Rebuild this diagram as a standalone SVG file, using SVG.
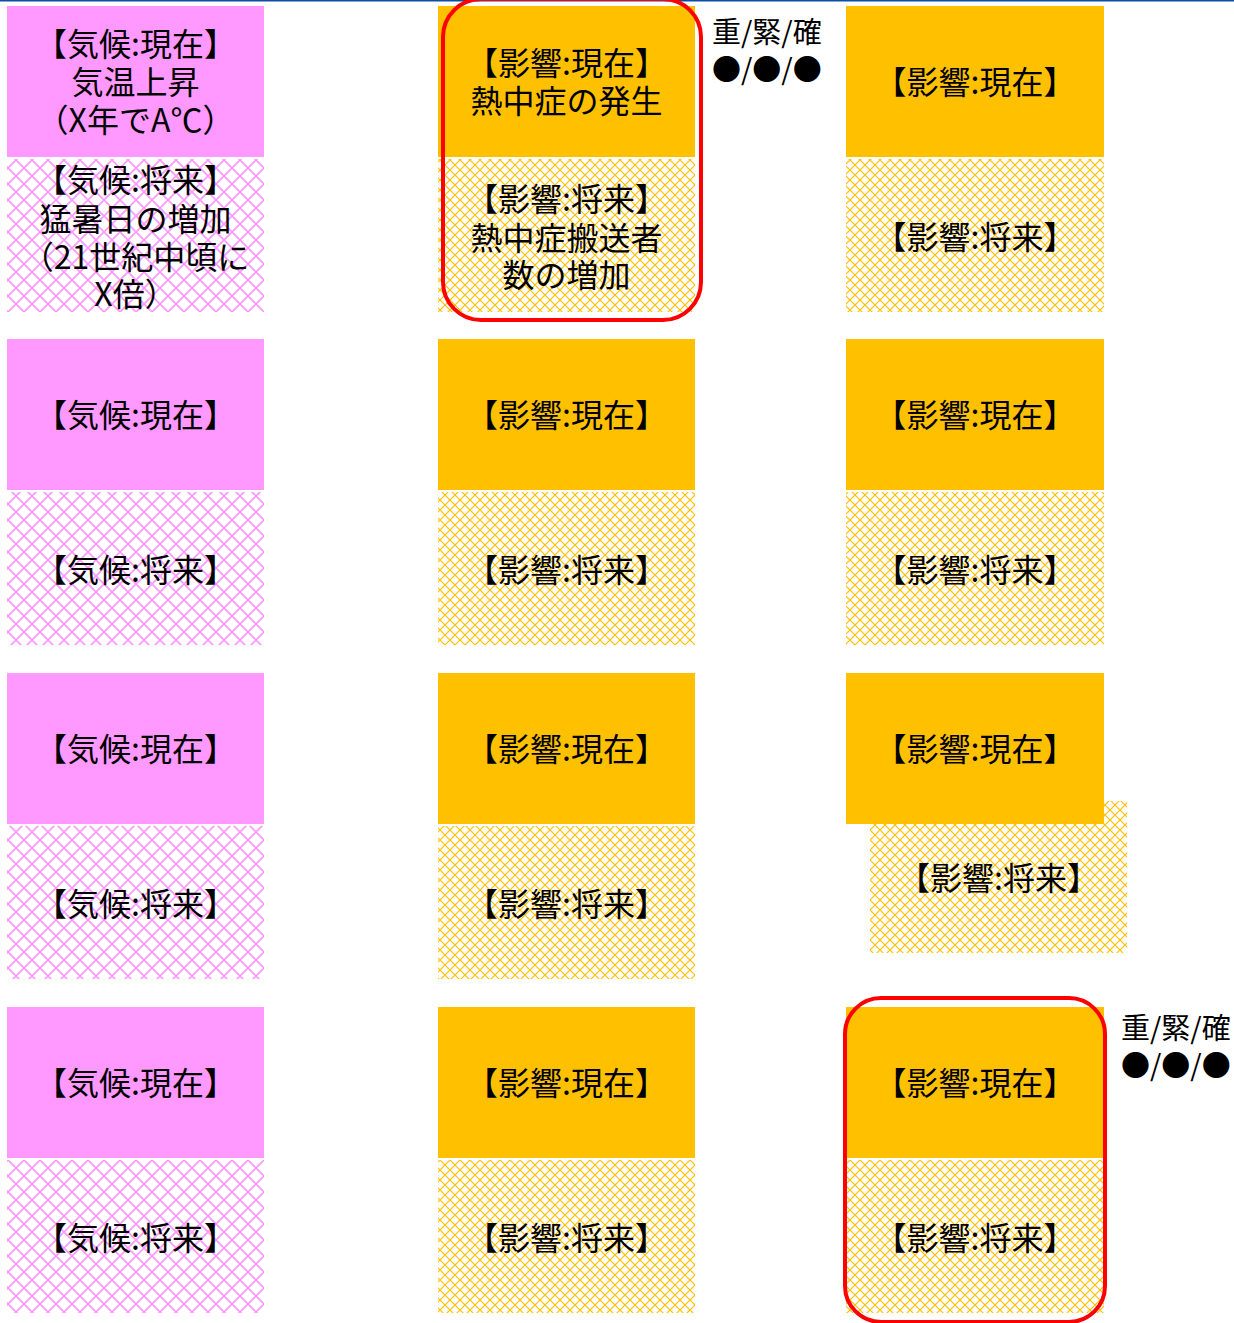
<svg xmlns="http://www.w3.org/2000/svg" width="1234" height="1323" viewBox="0 0 1234 1323">
<style>
.t{font-family:"Noto Sans CJK JP","Noto Sans CJK SC",sans-serif;font-size:32px;fill:#000;text-anchor:middle}
.lab{font-family:"Noto Sans CJK JP","Noto Sans CJK SC",sans-serif;font-size:29px;fill:#000}
.cp{fill:#FF99FF}
.cf{fill:url(#pinkHatch)}
.ip{fill:#FFC000}
.if{fill:url(#orangeHatch)}
.hl{fill:none;stroke:#FF0000;stroke-width:4}
</style>
<defs>
<pattern id="pinkHatch" patternUnits="userSpaceOnUse" width="16" height="16">
<rect width="16" height="16" fill="#fff"/>
<path d="M0,0 L16,16 M16,0 L0,16" stroke="#FF99FF" stroke-width="1.7"/>
</pattern>
<pattern id="orangeHatch" patternUnits="userSpaceOnUse" width="10" height="10">
<rect width="10" height="10" fill="#fff"/>
<path d="M0,0 L10,10 M10,0 L0,10" stroke="#FFC000" stroke-width="1.2"/>
</pattern>
</defs>
<rect width="1234" height="1323" fill="#fff"/>
<rect x="0" y="0" width="1234" height="1.5" fill="#0B4EA2"/>

<!-- Column 1: climate -->
<g id="climate-now-1"><rect class="cp" x="7" y="6" width="257" height="151"/>
<text class="t" x="135.5" y="56">【気候:現在】</text><text class="t" x="135.5" y="94">気温上昇</text><text class="t" x="135.5" y="132">（X年でA℃）</text></g>
<g id="climate-future-1"><rect class="cf" x="7" y="159" width="257" height="153"/>
<text class="t" x="135.5" y="192">【気候:将来】</text><text class="t" x="135.5" y="231">猛暑日の増加</text><text class="t" x="135.5" y="269">（21世紀中頃に</text><text class="t" x="135.5" y="306">X倍）</text></g>
<g id="climate-now-2"><rect class="cp" x="7" y="339" width="257" height="151"/><text class="t" x="135.5" y="427">【気候:現在】</text></g>
<g id="climate-future-2"><rect class="cf" x="7" y="492" width="257" height="153"/><text class="t" x="135.5" y="582">【気候:将来】</text></g>
<g id="climate-now-3"><rect class="cp" x="7" y="673" width="257" height="151"/><text class="t" x="135.5" y="761">【気候:現在】</text></g>
<g id="climate-future-3"><rect class="cf" x="7" y="826" width="257" height="153"/><text class="t" x="135.5" y="916">【気候:将来】</text></g>
<g id="climate-now-4"><rect class="cp" x="7" y="1007" width="257" height="151"/><text class="t" x="135.5" y="1095">【気候:現在】</text></g>
<g id="climate-future-4"><rect class="cf" x="7" y="1160" width="257" height="153"/><text class="t" x="135.5" y="1250">【気候:将来】</text></g>

<!-- Column 2: impact -->
<g id="impact-now-1"><rect class="ip" x="438" y="6" width="257" height="151"/>
<text class="t" x="566.5" y="75">【影響:現在】</text><text class="t" x="566.5" y="113">熱中症の発生</text></g>
<g id="impact-future-1"><rect class="if" x="438" y="159" width="257" height="153"/>
<text class="t" x="566.5" y="211">【影響:将来】</text><text class="t" x="566.5" y="250">熱中症搬送者</text><text class="t" x="566.5" y="287">数の増加</text></g>
<g id="impact-now-2"><rect class="ip" x="438" y="339" width="257" height="151"/><text class="t" x="566.5" y="427">【影響:現在】</text></g>
<g id="impact-future-2"><rect class="if" x="438" y="492" width="257" height="153"/><text class="t" x="566.5" y="582">【影響:将来】</text></g>
<g id="impact-now-3"><rect class="ip" x="438" y="673" width="257" height="151"/><text class="t" x="566.5" y="761">【影響:現在】</text></g>
<g id="impact-future-3"><rect class="if" x="438" y="826" width="257" height="153"/><text class="t" x="566.5" y="916">【影響:将来】</text></g>
<g id="impact-now-4"><rect class="ip" x="438" y="1007" width="257" height="151"/><text class="t" x="566.5" y="1095">【影響:現在】</text></g>
<g id="impact-future-4"><rect class="if" x="438" y="1160" width="257" height="153"/><text class="t" x="566.5" y="1250">【影響:将来】</text></g>

<!-- Column 3: impact -->
<g id="impact2-now-1"><rect class="ip" x="846" y="6" width="258" height="151"/><text class="t" x="975" y="94">【影響:現在】</text></g>
<g id="impact2-future-1"><rect class="if" x="846" y="159" width="258" height="153"/><text class="t" x="975" y="249">【影響:将来】</text></g>
<g id="impact2-now-2"><rect class="ip" x="846" y="339" width="258" height="151"/><text class="t" x="975" y="427">【影響:現在】</text></g>
<g id="impact2-future-2"><rect class="if" x="846" y="492" width="258" height="153"/><text class="t" x="975" y="582">【影響:将来】</text></g>
<g id="impact2-future-3"><rect class="if" x="870" y="801" width="257" height="152"/><text class="t" x="998.5" y="890">【影響:将来】</text></g>
<g id="impact2-now-3"><rect class="ip" x="846" y="673" width="258" height="151"/><text class="t" x="975" y="761">【影響:現在】</text></g>
<g id="impact2-now-4"><rect class="ip" x="846" y="1007" width="258" height="151"/><text class="t" x="975" y="1095">【影響:現在】</text></g>
<g id="impact2-future-4"><rect class="if" x="846" y="1160" width="258" height="153"/><text class="t" x="975" y="1250">【影響:将来】</text></g>

<!-- Highlights and ratings -->
<g id="highlight-1"><rect class="hl" x="443" y="-1" width="258" height="321" rx="38"/>
<text class="lab" x="712" y="43">重/緊/確</text><text class="lab" x="712" y="80">●/●/●</text></g>
<g id="highlight-2"><rect class="hl" x="845" y="998" width="260" height="324" rx="36"/>
<text class="lab" x="1121" y="1039">重/緊/確</text><text class="lab" x="1121" y="1076">●/●/●</text></g>

<g id="connectors"></g>
</svg>
